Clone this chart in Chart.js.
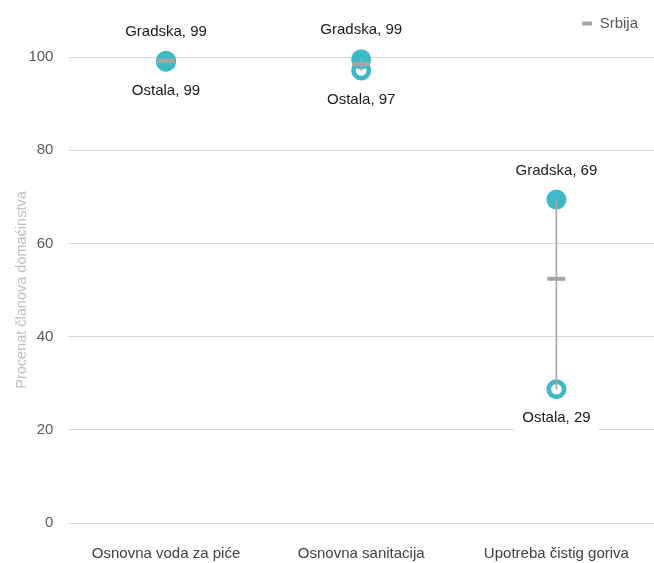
<!DOCTYPE html>
<html>
<head>
<meta charset="utf-8">
<script src="https://cdn.jsdelivr.net/npm/chart.js@4.4.1/dist/chart.umd.min.js"></script>
<style>
  html, body { margin: 0; padding: 0; background: #fff; }
  #wrap { width: 654px; height: 563px; }
</style>
</head>
<body>
<div id="wrap"><canvas id="chart"></canvas></div>
<script>
const categories = ['Osnovna voda za piće', 'Osnovna sanitacija', 'Upotreba čistig goriva'];
const gradska = [99.2, 99.5, 69.4];
const ostala = [99.0, 97.1, 28.7];
const srbija = [99.2, 98.5, 52.4];
const gradskaLabels = ['Gradska, 99', 'Gradska, 99', 'Gradska, 69'];
const ostalaLabels = ['Ostala, 99', 'Ostala, 97', 'Ostala, 29'];
const yTicks = [0, 20, 40, 60, 80, 100];

const TEAL = '#3bb9c7';
const GREY = '#a6a6a6';
const FONT = '"Liberation Sans", Arial, sans-serif';

// text labels above Gradska and below Ostala, placed via the scales
const labelPlugin = {
  id: 'pointLabels',
  afterDatasetsDraw(chart) {
    const ctx = chart.ctx;
    const x = chart.scales.x, y = chart.scales.y;
    ctx.save();
    ctx.font = '15px ' + FONT;
    ctx.textAlign = 'center';
    ctx.textBaseline = 'middle';
    const draw = (txt, px, py) => {
      const w = ctx.measureText(txt).width;
      ctx.fillStyle = '#fff';
      ctx.fillRect(px - w / 2 - 8, py - 13, w + 16, 26);
      ctx.fillStyle = '#1a1a1a';
      ctx.fillText(txt, px, py);
    };
    categories.forEach((c, i) => {
      const px = x.getPixelForValue(i);
      draw(gradskaLabels[i], px, y.getPixelForValue(gradska[i]) - 29);
      draw(ostalaLabels[i], px, y.getPixelForValue(ostala[i]) + 29);
    });
    ctx.restore();
  }
};

// leave more room under the legend
const legendSpace = {
  id: 'legendSpace',
  beforeInit(chart) {
    const fit = chart.legend.fit;
    chart.legend.fit = function () {
      fit.call(this);
      this.height += 16;
    };
  }
};

new Chart(document.getElementById('chart'), {
  type: 'line',
  data: {
    labels: categories,
    datasets: [
      {
        label: 'Ostala',
        data: ostala,
        showLine: false,
        pointRadius: 7.7,
        pointBorderWidth: 4.7,
        pointBackgroundColor: '#fff',
        pointBorderColor: TEAL,
        order: 3,
        clip: false
      },
      {
        label: 'Gradska',
        data: gradska,
        showLine: false,
        pointRadius: 10,
        pointBorderWidth: 0,
        pointBackgroundColor: TEAL,
        pointBorderColor: TEAL,
        order: 2,
        clip: false
      },
      {
        type: 'bar',
        label: 'range',
        data: categories.map((c, i) => [ostala[i], gradska[i]]),
        backgroundColor: GREY,
        borderWidth: 0,
        barThickness: 1,
        order: 1
      },
      {
        label: 'Srbija',
        data: srbija,
        showLine: false,
        pointStyle: 'line',
        pointRadius: 9,
        pointBorderWidth: 4,
        borderWidth: 3,
        borderColor: GREY,
        backgroundColor: GREY,
        pointBorderColor: GREY,
        order: 0,
        clip: false
      }
    ]
  },
  options: {
    responsive: true,
    maintainAspectRatio: false,
    animation: false,
    layout: { autoPadding: false, padding: { top: 0, left: 11, right: 0, bottom: -22 } },
    plugins: {
      tooltip: { enabled: false },
      legend: {
        position: 'top',
        align: 'end',
        labels: {
          filter: item => item.text === 'Srbija',
          usePointStyle: true,
          pointStyle: 'line',
          pointStyleWidth: 10,
          boxHeight: 10,
          color: '#595959',
          font: { family: FONT, size: 15 },
          padding: 16
        }
      }
    },
    scales: {
      x: {
        offset: true,
        grid: { display: false, drawTicks: false },
        border: { display: false },
        ticks: { color: '#404040', font: { family: FONT, size: 15 }, padding: 22, maxRotation: 0, minRotation: 0, autoSkip: false }
      },
      y: {
        min: 0,
        max: 100,
        afterBuildTicks: axis => { axis.ticks = yTicks.map(v => ({ value: v })); },
        grid: { color: '#d9d9d9', lineWidth: 1, drawTicks: false },
        border: { display: false },
        ticks: { color: '#595959', font: { family: FONT, size: 15 }, padding: 15 },
        title: {
          display: true,
          text: 'Procenat članova domaćinstva',
          color: '#bfbfbf',
          font: { family: FONT, size: 14.5 },
          padding: { top: 2, bottom: -17 }
        }
      }
    }
  },
  plugins: [labelPlugin, legendSpace]
});
</script>
</body>
</html>
